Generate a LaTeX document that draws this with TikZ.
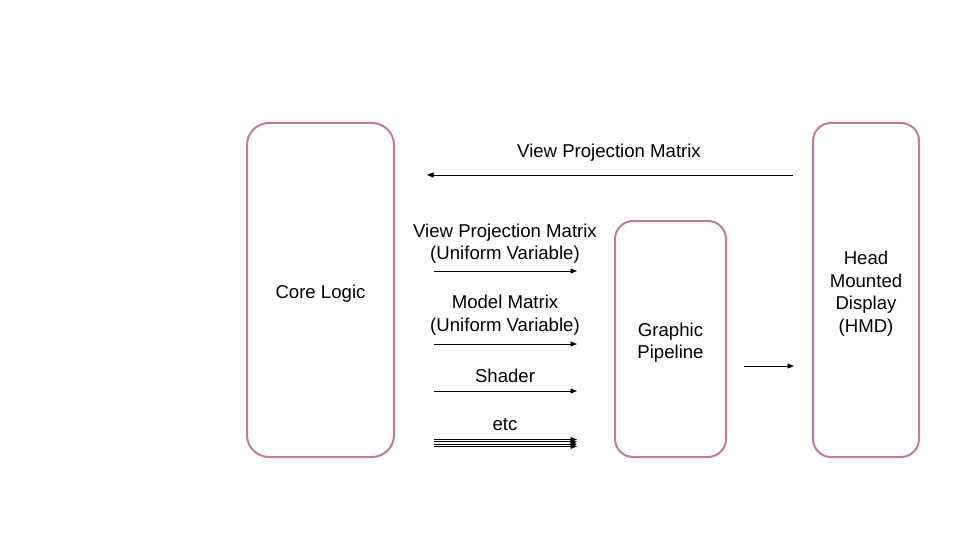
\documentclass[tikz,border=0pt]{standalone}
\usepackage{fontspec}
\setmainfont{Liberation Sans}
\usetikzlibrary{arrows.meta}
\definecolor{boxpink}{HTML}{C27BA0}
\begin{document}
\begin{tikzpicture}[x=1pt,y=-1pt,
  box/.style={draw=boxpink,line width=2pt,rounded corners=22pt,fill=white},
  lbl/.style={font=\fontsize{18.6}{22.5}\selectfont,align=center,inner sep=0pt},
  arr/.style={line width=0.9pt,-{Triangle[length=6.5pt,width=5pt]}}]
\useasboundingbox (0,0) rectangle (960,540);
\draw[box] (247,123) rectangle (394,457);
\node[lbl] (core) at (320.5,294) {Core Logic};
\draw[box,rounded corners=18pt] (615,221) rectangle (726,457);
\node[lbl] (gp) at (670.5,342.5) {Graphic\\Pipeline};
\draw[box,rounded corners=18pt] (813,123) rectangle (919,457);
\node[lbl] (hmd) at (866,293.5) {Head\\Mounted\\Display\\(HMD)};
% top arrow
\coordinate (t1) at (793,175);
\coordinate (t2) at (427,175);
\draw[arr] (t1) -- (t2);
\node[lbl] (tl) at (609,153) {View Projection Matrix};
% arrow 1
\coordinate (a1s) at (434,271); \coordinate (a1e) at (577,271);
\draw[arr] (a1s) -- (a1e);
\node[lbl] (a1l) at (505,243.5) {View Projection Matrix\\(Uniform Variable)};
% arrow 2
\coordinate (a2s) at (434,344); \coordinate (a2e) at (577,344);
\draw[arr] (a2s) -- (a2e);
\node[lbl] (a2l) at (505,315) {Model Matrix\\(Uniform Variable)};
% arrow 3
\coordinate (a3s) at (434,391); \coordinate (a3e) at (577,391);
\draw[arr] (a3s) -- (a3e);
\node[lbl] (a3l) at (505,376) {Shader};
% etc arrows
\foreach \yy [count=\i] in {439.5,441.8,444.1,446.4}{
  \coordinate (e\i s) at (434,\yy); \coordinate (e\i e) at (577,\yy);
  \draw[arr] (e\i s) -- (e\i e);
}
\node[lbl] (el) at (505,425) {etc};
% pipeline to hmd
\coordinate (ps) at (744,366); \coordinate (pe) at (794,366);
\draw[arr] (ps) -- (pe);
\end{tikzpicture}
\end{document}
